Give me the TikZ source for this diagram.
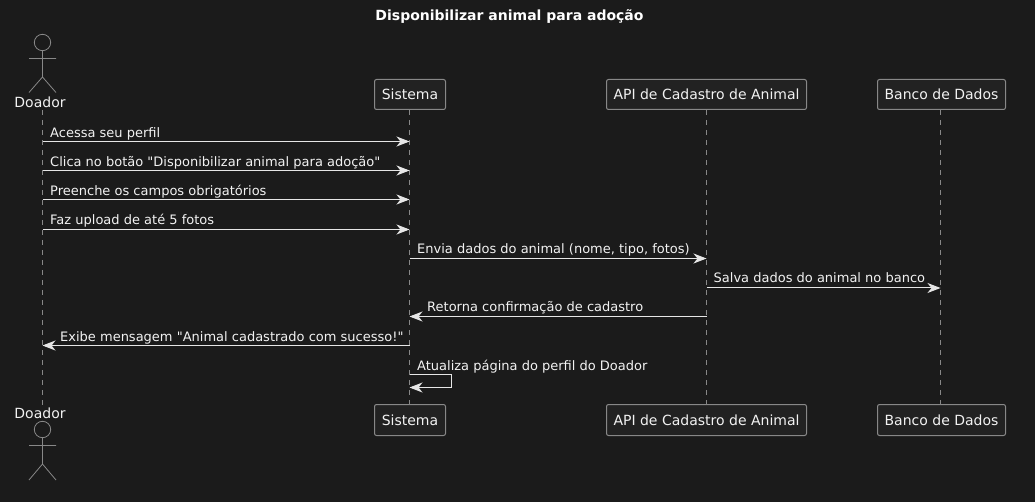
\documentclass[tikz,border=0pt]{standalone}
\usepackage{fontspec}
\setmainfont[Ligatures=TeXOff]{DejaVu Sans}
\usetikzlibrary{arrows.meta}
\definecolor{bgc}{HTML}{1B1B1B}
\definecolor{boxc}{HTML}{222222}
\definecolor{linec}{HTML}{888888}
\definecolor{textc}{HTML}{F2F2F2}
\definecolor{msgc}{HTML}{E6E6E6}
\tikzset{
 part/.style={draw=linec,fill=boxc,rounded corners=2pt,line width=1pt,text=textc,font=\fontsize{14}{16}\selectfont,minimum height=30pt,inner sep=0pt,anchor=center},
 lifel/.style={draw=linec,line width=.9pt,dash pattern=on 5pt off 5pt},
 msg/.style={draw=msgc,line width=1pt,-{Stealth[length=13pt,width=10pt,inset=4pt,fill=msgc]}},
 lbl/.style={text=textc,font=\fontsize{13}{15}\selectfont,anchor=base west,inner sep=0pt},
 act/.style={draw=linec,line width=.8pt},
 actlbl/.style={text=textc,font=\fontsize{14}{16}\selectfont,anchor=base,inner sep=0pt},
}
\begin{document}
\begin{tikzpicture}[x=1pt,y=-1pt]
\useasboundingbox[fill=bgc] (0,0) rectangle (1035,502);
\node[anchor=base,text=white,inner sep=0pt,font=\fontsize{14}{16}\selectfont\bfseries] (title) at (509.5,20.7) {Disponibilizar animal para adoção};
% actor labels
\node[actlbl] (dt) at (40,107.7) {Doador};
\node[actlbl] (db) at (40,418) {Doador};
\coordinate (dtl) at (42.5,110);
\coordinate (dbl) at (42.5,406);
\draw[lifel] (dtl) -- (dbl);
\node[part,minimum width=71pt] (st) at (410,94.5) {Sistema};
\node[part,minimum width=71pt,minimum height=31pt] (sb) at (410,420) {Sistema};
\node[part,minimum width=200pt] (at) at (706.5,94.5) {API de Cadastro de Animal};
\node[part,minimum width=200pt,minimum height=31pt] (ab) at (706.5,420) {API de Cadastro de Animal};
\node[part,minimum width=128pt] (bt) at (941.5,94.5) {Banco de Dados};
\node[part,minimum width=128pt,minimum height=31pt] (bb) at (941.5,420) {Banco de Dados};
\draw[lifel] (409.5,110) -- (409.5,404);
\draw[lifel] (706.5,110) -- (706.5,404);
\draw[lifel] (940.5,110) -- (940.5,404);
% stick figures
\draw[act] (42.5,42.5) circle (8.2);
\draw[act] (42.5,50.7) -- (42.5,77) (29,58.5) -- (56,58.5) (29,92.5) -- (42.5,77) -- (56,92.5);
\draw[act] (42.5,429.5) circle (8.2);
\draw[act] (42.5,437.7) -- (42.5,464) (29,445.5) -- (56,445.5) (29,480) -- (42.5,464) -- (56,480);
% endpoints
\foreach \n/\y in {1/141.5,2/170.5,3/199.5,4/229.5,5/258.5,6/288,7/316.5,8/345.5,9/374.5,10/387.5}{
 \coordinate (D\n) at (42.5,\y);
 \coordinate (S\n) at (409.5,\y);
 \coordinate (A\n) at (706.5,\y);
 \coordinate (B\n) at (940.5,\y);
}
\coordinate (loopa) at (451.5,374.5);
\coordinate (loopb) at (451.5,387.5);
\draw[msg] (D1) -- (S1);
\draw[msg] (D2) -- (S2);
\draw[msg] (D3) -- (S3);
\draw[msg] (D4) -- (S4);
\draw[msg] (S5) -- (A5);
\draw[msg] (A6) -- (B6);
\draw[msg] (A7) -- (S7);
\draw[msg] (S8) -- (D8);
\draw[msg] (S9) -- (loopa) -- (loopb) -- (S10);
\node[lbl] (m1) at (50,137.7) {Acessa seu perfil};
\node[lbl] (m2) at (50,166.7) {Clica no botão "Disponibilizar animal para adoção"};
\node[lbl] (m3) at (50,195.7) {Preenche os campos obrigatórios};
\node[lbl] (m4) at (50,224.7) {Faz upload de até 5 fotos};
\node[lbl] (m5) at (417,253.7) {Envia dados do animal (nome, tipo, fotos)};
\node[lbl] (m6) at (713.5,282.7) {Salva dados do animal no banco};
\node[lbl] (m7) at (427,311.7) {Retorna confirmação de cadastro};
\node[lbl] (m8) at (60,341.7) {Exibe mensagem "Animal cadastrado com sucesso!"};
\node[lbl] (m9) at (417,370.7) {Atualiza página do perfil do Doador};
\end{tikzpicture}
\end{document}
